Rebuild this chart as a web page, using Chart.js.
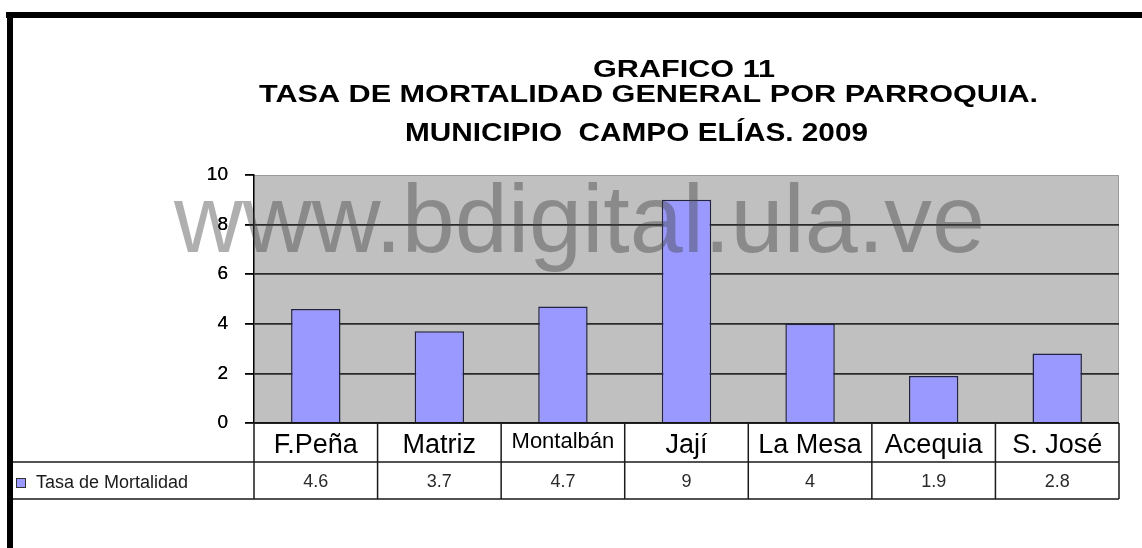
<!DOCTYPE html>
<html>
<head>
<meta charset="utf-8">
<script src="https://cdn.jsdelivr.net/npm/chart.js@4/dist/chart.umd.min.js"></script>
<style>
  html, body { margin: 0; padding: 0; background: #ffffff; }
  canvas { display: block; }
</style>
</head>
<body>
<canvas id="c" width="1142" height="548"></canvas>
<script>
// ---- data ----
const categories = ['F.Peña', 'Matriz', 'Montalbán', 'Jají', 'La Mesa', 'Acequia', 'S. José'];
const mortalityRate = [4.6, 3.7, 4.7, 9, 4, 1.9, 2.8];
const seriesLabel = 'Tasa de Mortalidad';
const yTicks = [0, 2, 4, 6, 8, 10];
const titleLines = ['GRAFICO 11', 'TASA DE MORTALIDAD GENERAL POR PARROQUIA.', 'MUNICIPIO  CAMPO ELÍAS. 2009'];
const watermarkText = 'www.bdigital.ula.ve';

const FONT = '"Liberation Sans", Arial, Helvetica, sans-serif';
const BAR_COLOR = '#9999ff';

function fitText(ctx, text, x, y, targetW, font, color) {
  ctx.save();
  ctx.font = font;
  ctx.fillStyle = color;
  ctx.textBaseline = 'alphabetic';
  ctx.textAlign = 'left';
  const w = ctx.measureText(text).width;
  ctx.translate(x, y);
  ctx.scale(targetW / w, 1);
  ctx.fillText(text, 0, 0);
  ctx.restore();
}

const decorPlugin = {
  id: 'decor',
  beforeDraw(chart) {
    const ctx = chart.ctx;
    const a = chart.chartArea;
    ctx.save();
    ctx.fillStyle = '#ffffff';
    ctx.fillRect(0, 0, chart.width, chart.height);
    ctx.fillStyle = '#c0c0c0';
    ctx.fillRect(a.left, a.top, a.right - a.left, a.bottom - a.top);
    ctx.strokeStyle = '#999999';
    ctx.lineWidth = 1;
    ctx.beginPath();
    ctx.moveTo(a.left, a.top + 0.5);
    ctx.lineTo(a.right - 0.5, a.top + 0.5);
    ctx.lineTo(a.right - 0.5, a.bottom);
    ctx.stroke();
    ctx.restore();
  },
  afterDatasetsDraw(chart) {
    const ctx = chart.ctx;
    fitText(ctx, watermarkText, 174, 252, 811, '96px ' + FONT, 'rgba(64,64,64,0.42)');
    try { chart.scales.y.drawLabels(chart.chartArea); } catch (e) {}
  },
  afterDraw(chart) {
    const ctx = chart.ctx;
    const a = chart.chartArea;
    const xs = chart.scales.x;
    const n = categories.length;
    const cellW = (xs.right - xs.left) / n;
    const rowTop = a.bottom;
    const rowMid = a.bottom + 39;
    const rowBot = xs.bottom;
    const tableLeft = 13;

    ctx.save();
    ctx.strokeStyle = '#1a1a1a';
    ctx.lineWidth = 1.5;
    ctx.beginPath();
    ctx.moveTo(xs.left, rowTop); ctx.lineTo(xs.right, rowTop);
    ctx.moveTo(tableLeft, rowMid); ctx.lineTo(xs.right, rowMid);
    ctx.moveTo(tableLeft, rowBot); ctx.lineTo(xs.right, rowBot);
    for (let i = 0; i <= n; i++) {
      const x = xs.left + i * cellW;
      ctx.moveTo(x, rowTop); ctx.lineTo(x, rowBot);
    }
    ctx.stroke();

    ctx.fillStyle = '#2a2a2a';
    ctx.font = '18px ' + FONT;
    ctx.textAlign = 'center';
    ctx.textBaseline = 'alphabetic';
    mortalityRate.forEach((v, i) => {
      const cx = xs.getPixelForValue(i);
      ctx.fillText(String(v), cx, rowMid + 25);
    });

    ctx.fillStyle = BAR_COLOR;
    ctx.fillRect(16, rowMid + 16, 10, 10);
    ctx.strokeStyle = '#333';
    ctx.lineWidth = 1;
    ctx.strokeRect(16.5, rowMid + 16.5, 9, 9);
    ctx.fillStyle = '#1a1a1a';
    ctx.textAlign = 'left';
    ctx.font = '18px ' + FONT;
    ctx.fillText(chart.data.datasets[0].label, 36, rowMid + 26);

    ctx.fillStyle = '#000000';
    ctx.fillRect(6, 12, chart.width - 6, 6);
    ctx.fillRect(7, 12, 6, chart.height - 12);
    ctx.restore();

    fitText(ctx, titleLines[0], 593, 77, 182, 'bold 24px ' + FONT, '#000');
    fitText(ctx, titleLines[1], 259, 102, 779, 'bold 24px ' + FONT, '#000');
    fitText(ctx, titleLines[2], 405, 141, 463, 'bold 26px ' + FONT, '#000');
  }
};

new Chart(document.getElementById('c'), {
  type: 'bar',
  data: {
    labels: categories,
    datasets: [{
      label: seriesLabel,
      data: mortalityRate,
      backgroundColor: BAR_COLOR,
      borderColor: '#222244',
      borderWidth: 1.5,
      borderSkipped: 'bottom',
      barPercentage: 0.4,
      categoryPercentage: 1.0
    }]
  },
  options: {
    responsive: false,
    animation: false,
    devicePixelRatio: 1,
    layout: { padding: { top: 175, right: 23, bottom: 49, left: 0 } },
    plugins: {
      legend: { display: false },
      title: { display: false },
      tooltip: { enabled: false }
    },
    scales: {
      x: {
        afterFit(scale) { scale.height = 76; },
        grid: { display: false },
        border: { display: false },
        ticks: {
          autoSkip: false,
          maxRotation: 0,
          minRotation: 0,
          padding: -2,
          color: '#000',
          font: (ctx) => ({ family: FONT, size: categories[ctx.index] === 'Montalbán' ? 22 : 27 })
        }
      },
      y: {
        min: 0,
        max: 10,
        afterFit(scale) { scale.width = 254; },
        afterBuildTicks(scale) { scale.ticks = yTicks.map(v => ({ value: v })); },
        grid: {
          color: (ctx) => ctx.tick && ctx.tick.value === 10 ? 'rgba(0,0,0,0)' : (ctx.tick && ctx.tick.value === 0 ? '#000' : '#2a2a2a'),
          tickColor: '#000',
          lineWidth: 1.8,
          tickLength: 9,
          drawTicks: true
        },
        border: { display: true, color: '#000', width: 1.5 },
        ticks: {
          padding: 17,
          color: '#000',
          font: { family: FONT, size: 19 }
        }
      }
    }
  },
  plugins: [decorPlugin]
});
</script>
</body>
</html>
